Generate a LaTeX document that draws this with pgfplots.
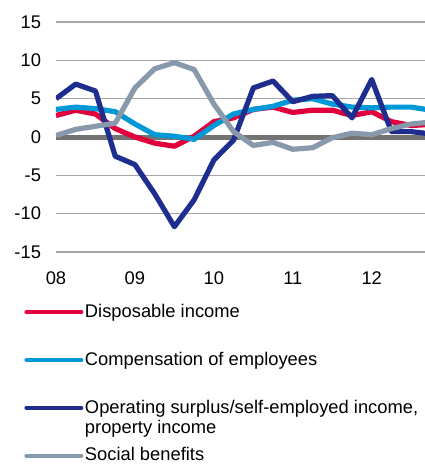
\documentclass[border=0pt]{standalone}
\usepackage{amsmath}
\usepackage{fontspec}
\setmainfont{Liberation Sans}
\usepackage{pgfplots}
\pgfplotsset{compat=1.18}

\definecolor{diRed}{HTML}{E2003C}
\definecolor{coBlue}{HTML}{0098D6}
\definecolor{opBlue}{HTML}{1D2E8E}
\definecolor{soGray}{HTML}{8899AB}
\definecolor{gridGray}{HTML}{A6A6A6}
\definecolor{zeroGray}{HTML}{737373}

% quarterly growth, 2008Q1 = 0
\pgfplotstableread{
q  disp comp oper soc
0  2.8  3.6  5.0  0.2
1  3.5  3.9  6.9  1.0
2  3.0  3.7  6.0  1.4
3  1.1  3.3 -2.5  1.8
4  0.0  1.7 -3.6  6.4
5 -0.8  0.3 -7.4  8.9
6 -1.2  0.1 -11.7 9.7
7  0.1 -0.3 -8.2  8.8
8  2.0  1.5 -3.0  4.3
9  2.5  3.0 -0.4  0.7
10 3.6  3.6  6.4 -1.1
11 3.9  4.0  7.3 -0.7
12 3.2  4.8  4.6 -1.6
13 3.5  5.0  5.3 -1.4
14 3.5  4.3  5.4 -0.1
15 2.8  3.9  2.5  0.5
16 3.3  3.8  7.5  0.3
17 2.0  3.9  0.7  1.1
18 1.5  3.9  0.7  1.7
19 1.65 3.5  0.4  1.95
}\data

\begin{document}
\begin{tikzpicture}
\begin{axis}[
  scale only axis,
  width=184.5bp, height=115bp,
  xmin=0, xmax=18.7,
  ymin=-15, ymax=15,
  axis line style={draw=none},
  xtick={0,4,8,12,16},
  xticklabels={08,09,10,11,12},
  ytick={-15,-10,...,15},
  tick style={draw=none},
  ymajorgrids,
  grid style={gridGray, line width=0.6bp},
  font=\fontsize{9.2}{10.4}\selectfont,
  ticklabel style={font=\fontsize{9.2}{10.4}\selectfont},
  /pgf/number format/assume math mode=true,
  yticklabel style={anchor=east, xshift=-4bp},
  xticklabel style={anchor=north, yshift=-6.5bp},
  every axis plot/.append style={line width=2.6bp, line join=round},
  legend image code/.code={\draw[#1, line width=2bp, line cap=round] (0bp,0bp) -- (27.5bp,0bp);},
  legend cell align=left,
  legend style={
    draw=none, fill=none,
    at={(rel axis cs:0,0)}, anchor=north west,
    xshift=-16bp, yshift=-25bp,
    row sep=14.2bp,
    inner sep=0pt,
    nodes={inner sep=0.8bp, font=\fontsize{9.2}{10.4}\selectfont},
  },
]
\addplot[zeroGray, line width=2.5bp, forget plot] coordinates {(0,0) (18.7,0)};
\addplot[diRed] table[x=q, y=disp] {\data};
\addlegendentry{Disposable income}
\addplot[coBlue] table[x=q, y=comp] {\data};
\addlegendentry{Compensation of employees}
\addplot[opBlue] table[x=q, y=oper] {\data};
\addlegendentry{\smash[b]{\parbox[t]{190bp}{Operating surplus/self-employed income,\\property income}}}
\addplot[soGray] table[x=q, y=soc] {\data};
\addlegendentry{Social benefits}
\end{axis}
\pgfresetboundingbox
\path ([xshift=-28bp,yshift=11bp]current axis.north west) rectangle ([yshift=-106bp]current axis.south east);
\end{tikzpicture}
\end{document}
